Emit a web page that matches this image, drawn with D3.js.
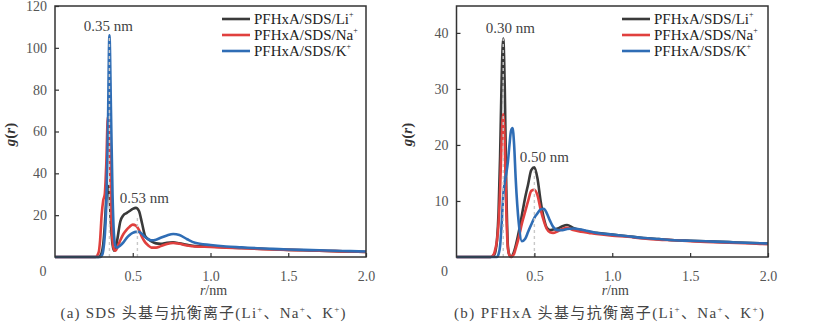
<!DOCTYPE html>
<html><head><meta charset="utf-8">
<script src="https://cdn.jsdelivr.net/npm/d3@7"></script>
<style>body{margin:0;background:#fff} svg{display:block}</style>
</head><body><svg id="c" width="839" height="322"></svg>
<script>
// ---- data ----
const rA  = [0,0.26,0.28,0.29,0.30,0.31,0.32,0.33,0.34,0.35,0.36,0.37,0.38,0.39,0.40,0.42,0.44,0.46,0.48,0.50,0.52,0.54,0.56,0.58,0.60,0.62,0.65,0.68,0.72,0.76,0.80,0.85,0.90,1.0,1.1,1.2,1.3,1.4,1.5,1.6,1.7,1.8,1.9,2.0];
const liA = [0,0,0,0.5,2,6,15,28,34,30,15,6,3,4,8,17,20,21,22,23,23.5,22,16,10,8.5,7.5,6.5,6.3,6.8,7,6.5,5.8,5.2,5,4.6,4.3,4,3.7,3.4,3.2,3,2.8,2.6,2.4];
const naA = [0,0,2,8,20,27,30,45,67,55,25,8,3.5,3,4.5,8,11,13,14.5,15.5,15,13,9.5,7,5.5,4.5,4.5,5.2,6.2,6.7,6.3,5.5,5,4.8,4.5,4.2,3.9,3.6,3.4,3.2,3,2.8,2.6,2.4];
const kA  = [0,0,0,0,0.5,3,10,25,60,106,70,30,10,5,4.5,5.5,7,9,10.5,11.5,12,12,11,9.5,8.5,8,8.3,9.2,10.3,11,10.5,8.5,6.8,5.7,5,4.6,4.2,3.9,3.6,3.4,3.2,3,2.8,2.6];

const rB  = [0,0.22,0.24,0.25,0.26,0.27,0.28,0.29,0.30,0.31,0.32,0.33,0.34,0.35,0.36,0.37,0.38,0.40,0.42,0.44,0.46,0.48,0.50,0.52,0.54,0.56,0.58,0.60,0.62,0.65,0.68,0.71,0.75,0.80,0.85,0.90,1.0,1.1,1.2,1.3,1.4,1.5,1.6,1.7,1.8,1.9,2.0];
const liB = [0,0,0.3,1,3,8,18,32,39,30,12,2,0.3,0,0.3,1,2,4.5,7.5,10.5,13,15.5,16,14,10,7,5.2,4.8,4.9,5.1,5.5,5.7,5.2,4.8,4.5,4.3,4,3.7,3.4,3.2,3.0,2.9,2.8,2.7,2.6,2.5,2.4];
const naB = [0,0,0.5,1.5,3,6,12,21,25.5,20,8,1.5,0.3,0,0.2,0.6,1.5,3.5,6,8,10,11.8,12,11,8.5,6.5,5,4.4,4.3,4.6,5,5.2,4.8,4.5,4.3,4.1,3.8,3.6,3.3,3.1,3.0,2.8,2.7,2.6,2.5,2.4,2.3];
const kB  = [0,0,0,0,0,0.5,2,6,11,13.5,15,17,20,22.5,23,20,14,6,2.8,3.2,4.5,5.8,7,7.8,8.5,8.6,7.8,6.5,5.4,4.8,4.8,5,5.1,4.9,4.6,4.3,4,3.7,3.4,3.2,3.0,2.9,2.8,2.7,2.6,2.5,2.4];

const seriesNames = ["PFHxA/SDS/Li","PFHxA/SDS/Na","PFHxA/SDS/K"];
const colors = ["#3a3a3a","#e0403e","#2f6db5"];
const xTicks = [0.5,1.0,1.5,2.0];
const yTicksA = [20,40,60,80,100,120];
const yTicksB = [10,20,30,40];
const marksA = [{r:0.35,g:105,label:"0.35 nm"},{r:0.53,g:20,label:"0.53 nm"}];
const marksB = [{r:0.30,g:39,label:"0.30 nm"},{r:0.50,g:16,label:"0.50 nm"}];
const captionA = ["(a) SDS 头基与抗衡离子(Li","、Na","、K",")"];
const captionB = ["(b) PFHxA 头基与抗衡离子(Li","、Na","、K",")"];

// ---- drawing ----
const svg = d3.select("#c");
const serif = "'Liberation Serif','Times New Roman','Noto Sans CJK SC',serif";

const panels = [
  {r:rA, ys:[liA,naA,kA], x0:55, x1:366, ymax:120, yticks:yTicksA, marks:marksA,
   markDx:[-1,7], markY:[31,203], legX:222, cap:captionA, capX:203, capLen:285, ylabX:15},
  {r:rB, ys:[liB,naB,kB], x0:456.5, x1:768, ymax:44.8, yticks:yTicksB, marks:marksB,
   markDx:[7,10], markY:[33,162], legX:622, cap:captionB, capX:609, capLen:310, ylabX:412}
];
const plotTop = 6, plotBottom = 257;

panels.forEach(p => {
  const x = d3.scaleLinear().domain([0,2]).range([p.x0,p.x1]);
  const y = d3.scaleLinear().domain([0,p.ymax]).range([plotBottom, plotTop]);
  const g = svg.append("g");

  // curves
  const line = d3.line().x(d=>x(d[0])).y(d=>y(d[1])).curve(d3.curveMonotoneX);
  p.ys.forEach((vals,i) => {
    const pts = p.r.map((rv,j)=>[rv, vals[j]]);
    g.append("path").attr("d", line(pts)).attr("fill","none")
      .attr("stroke", colors[i]).attr("stroke-width",2.6).attr("stroke-linejoin","round");
  });

  // dashed marker lines
  p.marks.forEach((m,i) => {
    g.append("line").attr("x1",x(m.r)).attr("x2",x(m.r)).attr("y1",y(0)).attr("y2",y(m.g))
      .attr("stroke","#c8c8c8").attr("stroke-width",1.4).attr("stroke-dasharray","3,3");
    g.append("text").attr("x",x(m.r)+p.markDx[i]).attr("y",p.markY[i])
      .attr("text-anchor","middle").attr("font-family",serif).attr("font-size",15)
      .attr("fill","#444").text(m.label);
  });

  // frame
  g.append("rect").attr("x",p.x0).attr("y",plotTop).attr("width",p.x1-p.x0).attr("height",plotBottom-plotTop)
    .attr("fill","none").attr("stroke","#333").attr("stroke-width",1.5);

  // axes
  const xa = g.append("g").attr("transform",`translate(0,${plotBottom})`)
    .call(d3.axisBottom(x).tickValues(xTicks).tickSize(-4).tickPadding(14).tickFormat(d3.format(".1f")));
  const ya = g.append("g").attr("transform",`translate(${p.x0},0)`)
    .call(d3.axisLeft(y).tickValues(p.yticks).tickSize(-4).tickPadding(8).tickFormat(d3.format("d")));
  [xa,ya].forEach(a => {
    a.attr("font-family",serif);
    a.select(".domain").remove();
    a.selectAll(".tick line").attr("stroke","#333").attr("stroke-width",1.2);
    a.selectAll(".tick text").attr("font-family",serif).attr("font-size",14).attr("fill","#555");
  });
  g.append("text").attr("x",x(0)-12).attr("y",276).attr("text-anchor","middle")
    .attr("font-family",serif).attr("font-size",14).attr("fill","#555").text("0");

  // axis titles
  const xt = g.append("text").attr("x",(p.x0+p.x1)/2+3).attr("y",295).attr("text-anchor","middle")
    .attr("font-family",serif).attr("font-size",14).attr("fill","#444");
  xt.append("tspan").attr("font-style","italic").text("r");
  xt.append("tspan").text("/nm");
  const yt = g.append("text").attr("transform",`translate(${p.ylabX},${(plotTop+plotBottom)/2+3}) rotate(-90)`)
    .attr("text-anchor","middle").attr("font-family",serif).attr("font-size",15)
    .attr("font-weight","bold").attr("fill","#333");
  yt.append("tspan").attr("font-style","italic").text("g");
  yt.append("tspan").text("(");
  yt.append("tspan").attr("font-style","italic").text("r");
  yt.append("tspan").text(")");

  // legend
  seriesNames.forEach((nm,i) => {
    const ly = 19 + i*16;
    g.append("line").attr("x1",p.legX).attr("x2",p.legX+28).attr("y1",ly).attr("y2",ly)
      .attr("stroke",colors[i]).attr("stroke-width",2.6);
    const t = g.append("text").attr("x",p.legX+32).attr("y",ly+5)
      .attr("font-family",serif).attr("font-size",15).attr("fill","#222");
    t.append("tspan").text(nm);
    t.append("tspan").attr("font-size",8).attr("dy",-7).text("+");
  });

  // caption
  const c = g.append("text").attr("x",p.capX).attr("y",318).attr("text-anchor","middle")
    .attr("font-family",serif).attr("font-size",15).attr("fill","#444")
    .attr("textLength",p.capLen).attr("lengthAdjust","spacing");
  p.cap.forEach((s,i) => {
    c.append("tspan").attr("dy", i===0?0:6).text(s);
    if (i < p.cap.length-1) c.append("tspan").attr("font-size",9).attr("dy",-6).text("+");
  });
});
</script></body></html>
